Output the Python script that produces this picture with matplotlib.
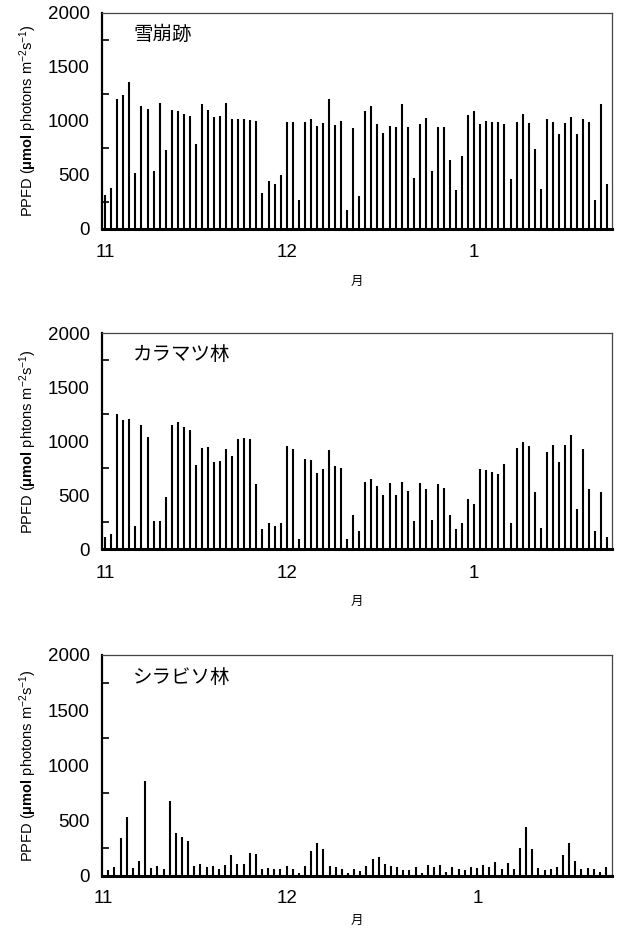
import matplotlib.pyplot as plt
import numpy as np

plt.rcParams['font.family'] = ['Liberation Sans', 'Noto Sans CJK JP', 'DejaVu Sans']
plt.rcParams['mathtext.fontset'] = 'custom'
plt.rcParams['mathtext.rm'] = 'Liberation Sans'
plt.rcParams['mathtext.bf'] = 'Liberation Sans:bold'
plt.rcParams['mathtext.it'] = 'Liberation Sans:italic'

# daily peak PPFD, from 1 Nov
yukizaki = [318, 380, 1200, 1241, 1358, 522, 1136, 1114, 537, 1164, 731, 1099, 1090, 1062,
            1049, 784, 1154, 1099, 1037, 1043, 1170, 1022, 1022, 1015, 1012, 997, 333, 441,
            414, 500, 988, 988, 265, 988, 1015, 957, 978, 1207, 966, 997, 179, 935, 302,
            1093, 1136, 969, 889, 951, 944, 1154, 941, 475, 969, 1025, 537, 944, 948, 636,
            358, 679, 1052, 1090, 969, 997, 991, 988, 975, 466, 988, 1068, 978, 741, 373,
            1015, 994, 883, 978, 1034, 880, 1015, 988, 272, 1160, 420]
karamatsu = [111, 139, 1250, 1198, 1207, 219, 1148, 1040, 259, 265, 485, 1148, 1176, 1133,
             1105, 781, 938, 948, 806, 815, 929, 864, 1022, 1031, 1019, 605, 185, 244, 213,
             244, 957, 932, 96, 840, 830, 710, 744, 920, 775, 756, 93, 315, 170, 623, 651,
             590, 503, 611, 503, 627, 540, 259, 617, 556, 275, 608, 568, 321, 185, 244, 469,
             423, 744, 731, 716, 698, 790, 247, 941, 994, 957, 531, 194, 898, 963, 809, 966,
             1056, 377, 929, 562, 167, 531, 117]
shirabiso = [54, 78, 347, 537, 69, 136, 860, 69, 90, 60, 679, 392, 356, 320, 90, 106, 84, 90,
             60, 97, 187, 106, 106, 211, 199, 60, 69, 65, 60, 90, 60, 27, 90, 226, 296, 241,
             90, 78, 60, 24, 60, 48, 90, 151, 169, 106, 90, 78, 54, 54, 78, 30, 97, 78, 97,
             39, 84, 60, 54, 78, 72, 97, 84, 127, 60, 115, 60, 256, 446, 247, 69, 54, 60, 84,
             187, 296, 136, 60, 69, 60, 39, 78]

titles = ['雪崩跡', 'カラマツ林', 'シラビソ林']
ylabels = [r'PPFD ($\mathbf{\mu mol}$ photons m$^{-2}$s$^{-1}$)',
           r'PPFD ($\mathbf{\mu mol}$ phtons m$^{-2}$s$^{-1}$)',
           r'PPFD ($\mathbf{\mu mol}$ photons m$^{-2}$s$^{-1}$)']
month_ticks = [0.5, 30.5, 61.5]
month_labels = ['11', '12', '1']

fig = plt.figure(figsize=(6.19, 9.33), dpi=100)
boxes = [[0.165, 0.7546, 0.824, 0.2315],
         [0.165, 0.4113, 0.824, 0.2315],
         [0.165, 0.0611, 0.824, 0.2369]]
xlims = [(0, 84.3), (0, 84.3), (0.34, 83.36)]
starts = [0.5, 0.5, 1.35]
xpads = [11, 11, 10]
mpads = [10, 10, 5]

for i, vals in enumerate([yukizaki, karamatsu, shirabiso]):
    ax = fig.add_axes(boxes[i])
    x = np.arange(len(vals)) + starts[i]
    ax.vlines(x, 0, vals, color='black', lw=1.5)
    ax.set_xlim(*xlims[i])
    ax.set_ylim(0, 2000)
    ax.set_yticks([0, 500, 1000, 1500, 2000])
    ax.set_yticks([250, 750, 1250, 1750], minor=True)
    ax.tick_params(axis='y', which='major', length=0, labelsize=13.5, pad=9)
    ax.tick_params(axis='y', which='minor', direction='in', length=5, width=1.2)
    ax.set_xticks(month_ticks)
    ax.set_xticklabels(month_labels)
    ax.tick_params(axis='x', length=0, labelsize=13.5, pad=xpads[i])
    for s in ['top', 'right']:
        ax.spines[s].set_linewidth(0.9)
        ax.spines[s].set_color('#444444')
    ax.spines['left'].set_linewidth(1.6)
    ax.spines['bottom'].set_linewidth(2.2)
    ax.set_ylabel(ylabels[i], fontsize=10.5)
    ax.yaxis.set_label_coords(-0.124, 0.5)
    ax.text(0.061, 0.9, titles[i], transform=ax.transAxes, fontsize=14,
            family=['Noto Sans CJK JP'], va='center')
    ax.set_xlabel('月', fontsize=9, family=['Noto Sans CJK JP'], labelpad=mpads[i])

fig.savefig('out.png', dpi=100)
